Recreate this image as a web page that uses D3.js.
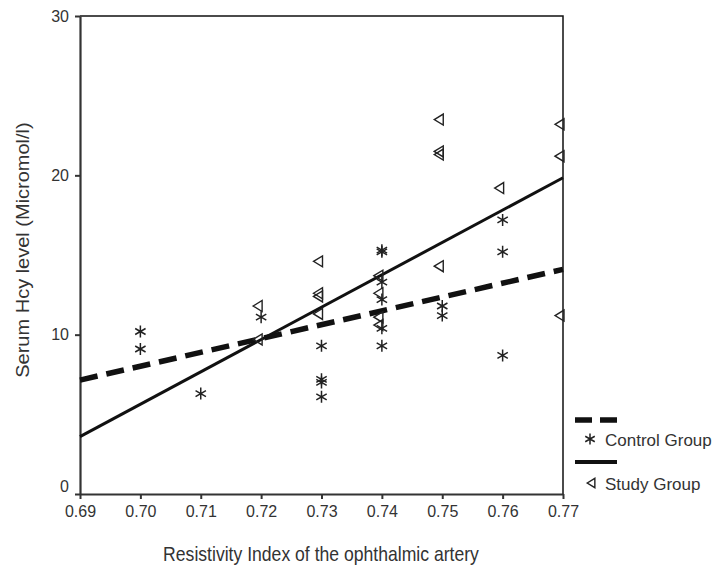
<!DOCTYPE html>
<html>
<head>
<meta charset="utf-8">
<script src="https://cdn.jsdelivr.net/npm/d3@7"></script>
<style>
  body { margin: 0; background: #fff; }
  text { font-family: "Liberation Sans", Arial, sans-serif; fill: #333; }
</style>
</head>
<body>
<div id="vis"></div>
<script>
const margin = {top: 16, right: 151, bottom: 83, left: 80};
const width = 714 - margin.left - margin.right;
const height = 577 - margin.top - margin.bottom;

// x ticks and y ticks
const xTicks = [0.69, 0.70, 0.71, 0.72, 0.73, 0.74, 0.75, 0.76, 0.77];
const yTicks = [0, 10, 20, 30];

// control group points (asterisks)
const controlRI  = [0.70, 0.70, 0.71, 0.72, 0.73, 0.73, 0.73, 0.73, 0.74, 0.74, 0.74, 0.74, 0.74, 0.74, 0.75, 0.75, 0.76, 0.76, 0.76];
const controlHcy = [10.2, 9.1, 6.3, 11.1, 9.3, 7.2, 7.0, 6.1, 15.2, 15.3, 13.3, 12.2, 10.4, 9.3, 11.8, 11.2, 17.2, 15.2, 8.7];

// study group points (triangles)
const studyRI  = [0.72, 0.72, 0.73, 0.73, 0.73, 0.73, 0.74, 0.74, 0.74, 0.74, 0.75, 0.75, 0.75, 0.75, 0.76, 0.77, 0.77, 0.77];
const studyHcy = [11.8, 9.7, 14.6, 12.6, 12.4, 11.3, 13.7, 12.6, 11.1, 10.6, 23.5, 21.5, 21.3, 14.3, 19.2, 23.2, 21.2, 11.2];

// fit lines, end points
const fitRI = [0.69, 0.77];
const controlFit = [7.15, 14.1];
const studyFit = [3.6, 19.85];

const svg = d3.select('#vis')
    .append('svg')
    .attr('width', 714)
    .attr('height', 577)
    .append('g')
    .attr('transform', `translate(${margin.left},${margin.top})`);

const xScale = d3.scaleLinear().domain([0.69, 0.77]).range([0, width]);
const yScale = d3.scaleLinear().domain([0, 30]).range([height, 0]);

// frame (top and right)
svg.append('path')
    .attr('d', `M0,0H${width}V${height}`)
    .attr('fill', 'none')
    .attr('stroke', '#111')
    .attr('stroke-width', 1.5);

const xAxis = svg.append('g')
    .attr('transform', `translate(0,${height})`)
    .call(d3.axisBottom(xScale).tickValues(xTicks).tickFormat(d3.format('.2f')).tickSize(5).tickSizeOuter(0));

const yAxis = svg.append('g')
    .call(d3.axisLeft(yScale).tickValues(yTicks).tickSize(5).tickSizeOuter(0));

[xAxis, yAxis].forEach(a => {
    a.select('.domain').attr('stroke', '#333').attr('stroke-width', 2.2);
    a.selectAll('.tick line').attr('stroke', '#333').attr('stroke-width', 2);
    a.selectAll('.tick text').style('font-size', '16px').attr('fill', '#333');
});
xAxis.selectAll('.tick text').attr('dy', '1em').attr('y', 7);
yAxis.selectAll('.tick text').attr('x', -11);
// the 0 label sits a bit above its tick
yAxis.selectAll('.tick').filter(d => d === 0).select('text').attr('y', -8);

// fit lines
const line = d3.line().x(d => xScale(d[0])).y(d => yScale(d[1]));

svg.append('path')
    .datum(fitRI.map((r, i) => [r, controlFit[i]]))
    .attr('d', line)
    .attr('fill', 'none')
    .attr('stroke', '#111')
    .attr('stroke-width', 5.5)
    .attr('stroke-dasharray', '18,9');

svg.append('path')
    .datum(fitRI.map((r, i) => [r, studyFit[i]]))
    .attr('d', line)
    .attr('fill', 'none')
    .attr('stroke', '#111')
    .attr('stroke-width', 3);

// markers
function asterisk(s) {
    let p = '';
    [90, 30, -30].forEach(a => {
        const r = a * Math.PI / 180;
        const dx = Math.cos(r) * s, dy = Math.sin(r) * s;
        p += `M${-dx},${-dy}L${dx},${dy}`;
    });
    return p;
}
function triangle(s) {
    return `M${-8 * s},0L${1 * s},${-5.5 * s}L${1 * s},${5.5 * s}Z`;
}

svg.selectAll('.ctrl')
    .data(controlRI.map((r, i) => ({r: r, v: controlHcy[i]})))
    .join('path')
    .attr('class', 'ctrl')
    .attr('transform', d => `translate(${xScale(d.r)},${yScale(d.v)})`)
    .attr('d', asterisk(6))
    .attr('fill', 'none')
    .attr('stroke', '#222')
    .attr('stroke-width', 1.5);

svg.selectAll('.study')
    .data(studyRI.map((r, i) => ({r: r, v: studyHcy[i]})))
    .join('path')
    .attr('class', 'study')
    .attr('transform', d => `translate(${xScale(d.r)},${yScale(d.v)})`)
    .attr('d', triangle(1))
    .attr('fill', 'none')
    .attr('stroke', '#222')
    .attr('stroke-width', 1.4);

// axis titles (the source lettering is a bit tall and narrow)
svg.append('text')
    .attr('transform', `translate(241,${height + 67}) scale(0.88,1)`)
    .attr('text-anchor', 'middle')
    .style('font-size', '20px')
    .text('Resistivity Index of the ophthalmic artery');

svg.append('text')
    .attr('transform', `translate(${-margin.left + 29},${250 - margin.top}) rotate(-90) scale(1,0.88)`)
    .attr('text-anchor', 'middle')
    .style('font-size', '20px')
    .text('Serum Hcy level (Micromol/l)');

// legend
const legend = svg.append('g').attr('transform', `translate(${575 - margin.left},${420 - margin.top})`);
legend.append('line')
    .attr('x1', 0).attr('x2', 42).attr('y1', 0).attr('y2', 0)
    .attr('stroke', '#111').attr('stroke-width', 5.5).attr('stroke-dasharray', '17,8');
legend.append('path')
    .attr('transform', 'translate(15,19)')
    .attr('d', asterisk(5.5))
    .attr('fill', 'none').attr('stroke', '#222').attr('stroke-width', 1.5);
legend.append('text')
    .attr('x', 30).attr('y', 26)
    .style('font-size', '17px')
    .text('Control Group');
legend.append('line')
    .attr('x1', 0).attr('x2', 42).attr('y1', 42).attr('y2', 42)
    .attr('stroke', '#111').attr('stroke-width', 4);
legend.append('path')
    .attr('transform', 'translate(19,63)')
    .attr('d', triangle(0.85))
    .attr('fill', 'none').attr('stroke', '#222').attr('stroke-width', 1.4);
legend.append('text')
    .attr('x', 30).attr('y', 70)
    .style('font-size', '17px')
    .text('Study Group');
</script>
</body>
</html>
